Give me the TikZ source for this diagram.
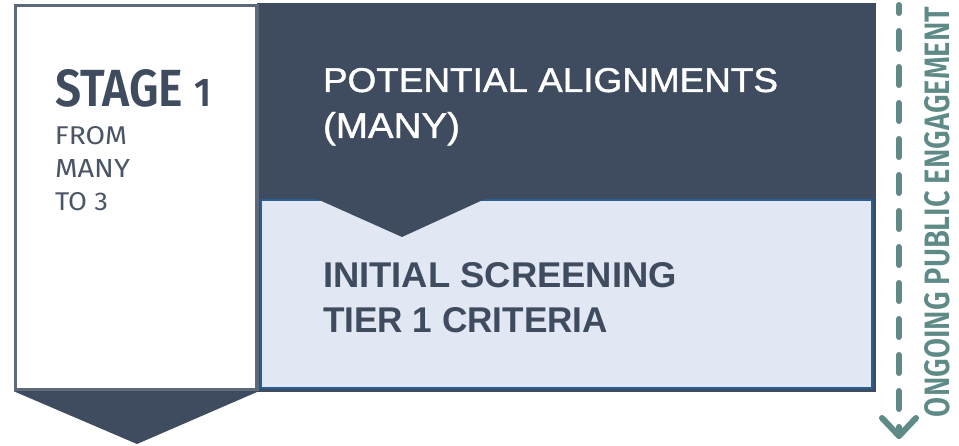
\documentclass[tikz,border=0pt]{standalone}
\usepackage{graphicx}
\usepackage{fontspec}
\newfontfamily\firasbl{Fira Sans SemiBold}
\newfontfamily\firareg{Fira Sans}
\newfontfamily\libsans{Liberation Sans}
\newfontfamily\libsansmed{Liberation Sans}[FakeBold=1.2]
\definecolor{navy}{HTML}{3F4B5E}
\definecolor{lightbox}{HTML}{E2E8F3}
\definecolor{blueb}{HTML}{2B5F94}
\definecolor{panelb}{HTML}{5E6979}
\definecolor{teal}{HTML}{5E8A87}
\definecolor{txtdark}{HTML}{3F4B5E}
\definecolor{txtmid}{HTML}{4A5566}
\tikzset{
  lbl/.style={inner sep=0pt, outer sep=0pt, anchor=base west},
  engage/.style={teal, line width=6pt, line cap=round, line join=round},
}
\begin{document}
\begin{tikzpicture}[x=1pt,y=-1pt]
\useasboundingbox (0,0) rectangle (959,446);
% dark region
\fill[navy] (257,3.5) rectangle (875.5,392);
% light box
\draw[fill=lightbox, draw=blueb, line width=2pt] (261,200) rectangle (872,388.5);
% notch arrow
\fill[navy] (317,199) -- (485,199) -- (402,237) -- cycle;
% left panel
\draw[fill=white, draw=panelb, line width=3.5pt] (15.5,5.5) rectangle (257,389.5);
% bottom arrow of left panel
\fill[navy] (13.75,391.25) -- (258.75,391.25) -- (137,444) -- cycle;
% texts left
\node[lbl, txtdark] (stage) at (55,107) {\resizebox{128pt}{37pt}{\firasbl STAGE}\hspace{11pt}\resizebox{17pt}{27pt}{\firasbl 1}};
\node[lbl, txtmid] (from) at (55,145) {\resizebox{72pt}{18pt}{\firareg FROM}};
\node[lbl, txtmid] (many) at (55,178) {\resizebox{75pt}{18pt}{\firareg MANY}};
\node[lbl, txtmid] (to3) at (55,211) {\resizebox{53pt}{18pt}{\firareg TO 3}};
% texts right
\node[lbl, white] (pot1) at (323,92) {\resizebox{455pt}{24pt}{\libsansmed POTENTIAL ALIGNMENTS}};
\node[lbl, white] (pot2) at (323,138) {\resizebox{137pt}{26pt}{\libsansmed (MANY)}};
\node[lbl, txtdark] (ini1) at (323,288) {\resizebox{354pt}{25pt}{\libsans\bfseries INITIAL SCREENING}};
\node[lbl, txtdark] (ini2) at (323,333) {\resizebox{285pt}{25pt}{\libsans\bfseries TIER 1 CRITERIA}};
% ongoing engagement
\coordinate (etop) at (899,5);
\coordinate (ebot) at (899,436);
\draw[engage, dash pattern=on 18pt off 18pt, dash phase=10pt] (etop) -- (ebot);
\draw[engage] (882,418) -- (ebot) -- (916,418);
\node[inner sep=0pt, teal, rotate=90, anchor=center] (eng) at (937.5,212)
  {\resizebox{410pt}{25pt}{\firasbl ONGOING PUBLIC ENGAGEMENT}};
\end{tikzpicture}
\end{document}
